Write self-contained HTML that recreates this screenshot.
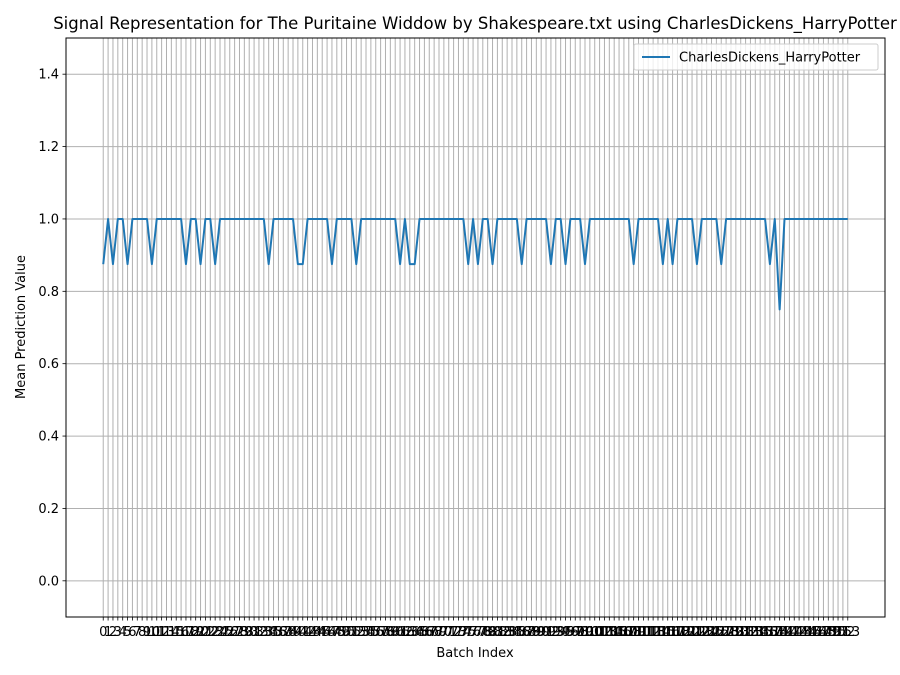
<!DOCTYPE html>
<html><head><meta charset="utf-8"><style>
body{margin:0;background:#fff;}
svg{display:block;font-family:"DejaVu Sans","Liberation Sans",sans-serif;}
</style></head><body>
<svg id="chart" width="900" height="675" viewBox="0 0 900 675">
<rect width="900" height="675" fill="#fff"/>
<text x="475" y="29" font-size="16.5" text-anchor="middle" fill="#000">Signal Representation for The Puritaine Widdow by Shakespeare.txt using CharlesDickens_HarryPotter</text>
<g id="grid"></g>
<g id="xticks"></g>
<g id="yticks"></g>
<polyline id="series" fill="none" stroke="#1f77b4" stroke-width="2" stroke-linejoin="round"/>
<rect x="66" y="38" width="819" height="579" fill="none" stroke="#000" stroke-width="1"/>
<text x="475" y="657" font-size="13" text-anchor="middle">Batch Index</text>
<text x="25" y="327" font-size="13" text-anchor="middle" transform="rotate(-90 25 327)">Mean Prediction Value</text>
<g>
<rect x="634" y="44" width="244" height="26" fill="#fff" fill-opacity="0.8" stroke="#ccc" rx="2"/>
<line x1="642" y1="57" x2="670" y2="57" stroke="#1f77b4" stroke-width="2"/>
<text x="679" y="61.5" font-size="13">CharlesDickens_HarryPotter</text>
</g>
</svg>
<script>
const lowIdx = [0,2,5,10,17,20,23,34,40,41,47,52,61,63,64,75,77,80,86,92,95,99,109,115,117,122,127,137];
const minIdx = [139];
const N = 154;
const values = [];
for (let i = 0; i < N; i++) values.push(1.0);
lowIdx.forEach(i => values[i] = 0.875);
minIdx.forEach(i => values[i] = 0.75);
const yTicks = [0.0, 0.2, 0.4, 0.6, 0.8, 1.0, 1.2, 1.4];

const X0 = 66, X1 = 885, Y0 = 38, Y1 = 617;
const xMin = -7.65, xMax = 160.65, yMin = -0.1, yMax = 1.5;
const xs = v => X0 + (v - xMin) / (xMax - xMin) * (X1 - X0);
const ys = v => Y1 - (v - yMin) / (yMax - yMin) * (Y1 - Y0);
const NS = "http://www.w3.org/2000/svg";
const grid = document.getElementById('grid');
const xt = document.getElementById('xticks');
const yt = document.getElementById('yticks');
for (let i = 0; i < N; i++) {
  const x = xs(i);
  const g = document.createElementNS(NS, 'line');
  
  
  g.setAttribute('x1', x); g.setAttribute('x2', x); g.setAttribute('y1', Y0); g.setAttribute('y2', Y1);
  g.setAttribute('stroke', '#b0b0b0'); g.setAttribute('stroke-width', '1');
  grid.appendChild(g);
  const t = document.createElementNS(NS, 'line');
  
  
  t.setAttribute('x1', x); t.setAttribute('x2', x); t.setAttribute('y1', Y1); t.setAttribute('y2', Y1 + 3.5);
  t.setAttribute('stroke', '#000'); t.setAttribute('stroke-width', '0.8');
  xt.appendChild(t);
  const l = document.createElementNS(NS, 'text');
  
  
  l.setAttribute('x', x); l.setAttribute('y', Y1 + 19); l.setAttribute('font-size', '13');
  l.setAttribute('text-anchor', 'middle');
  l.textContent = String(i);
  xt.appendChild(l);
}
yTicks.forEach(v => {
  const y = ys(v);
  const g = document.createElementNS(NS, 'line');
  
  
  g.setAttribute('x1', X0); g.setAttribute('x2', X1); g.setAttribute('y1', y); g.setAttribute('y2', y);
  g.setAttribute('stroke', '#b0b0b0'); g.setAttribute('stroke-width', '1');
  grid.appendChild(g);
  const t = document.createElementNS(NS, 'line');
  
  
  t.setAttribute('x1', X0 - 3.5); t.setAttribute('x2', X0); t.setAttribute('y1', y); t.setAttribute('y2', y);
  t.setAttribute('stroke', '#000'); t.setAttribute('stroke-width', '0.8');
  yt.appendChild(t);
  const l = document.createElementNS(NS, 'text');
  
  
  l.setAttribute('x', X0 - 7); l.setAttribute('y', y + 4.5); l.setAttribute('font-size', '13');
  l.setAttribute('text-anchor', 'end');
  l.textContent = v.toFixed(1);
  yt.appendChild(l);
});
document.getElementById('series').setAttribute('points', values.map((v, i) => xs(i) + ',' + ys(v)).join(' '));
</script>
</body></html>
